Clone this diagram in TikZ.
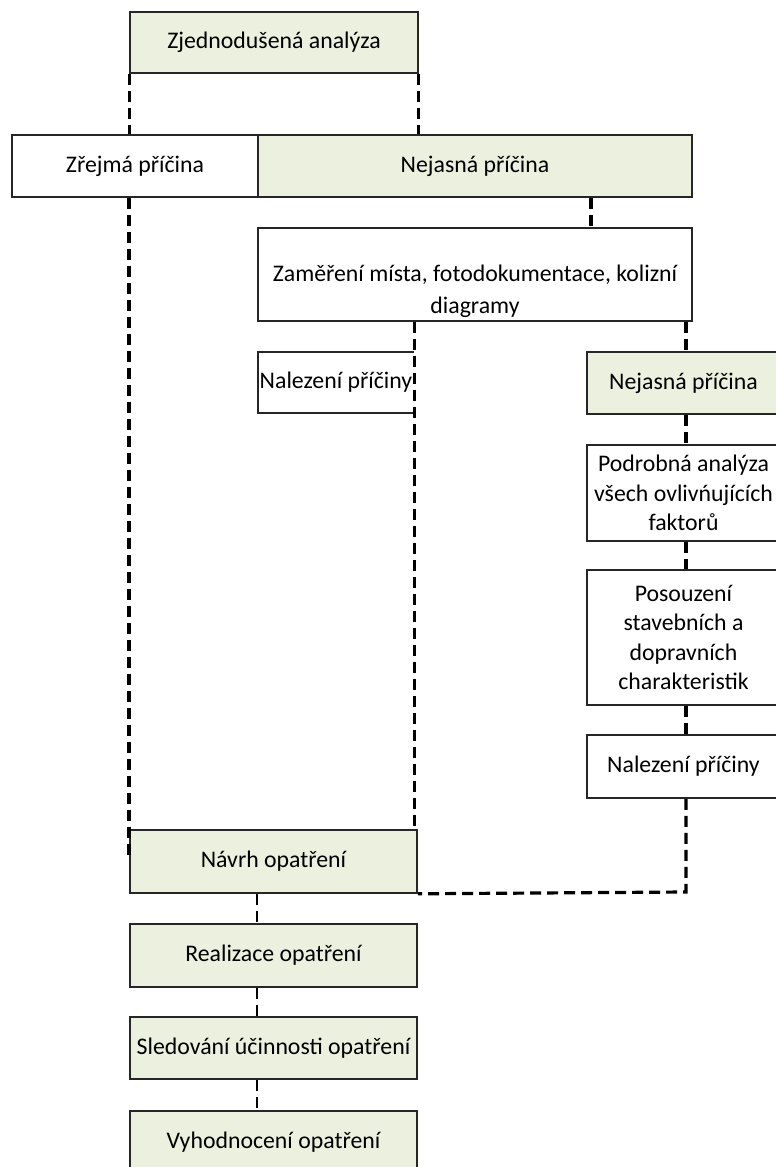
\documentclass[tikz,border=0pt]{standalone}
\usepackage{fontspec}
\setmainfont{Carlito}
\definecolor{boxgreen}{HTML}{EBF1DE}
\definecolor{edge}{HTML}{262626}
\begin{document}
\begin{tikzpicture}[x=1pt,y=-1pt,
  box/.style={draw=edge, line width=1.6pt, rectangle, inner sep=0pt, align=center,
    font=\fontsize{23.8}{29.5}\selectfont},
  gbox/.style={box, fill=boxgreen},
  dl/.style={draw=black, line width=3.2pt, dash pattern=on 11pt off 6pt},
  txt/.style={inner sep=0pt, align=center, font=\fontsize{23.8}{29.5}\selectfont}]
\useasboundingbox (0,0) rectangle (776,1167);
\clip (0,0) rectangle (776,1167);
% top
\node[gbox, minimum width=288, minimum height=61] (zj) at (274,42.5) {Zjednodušená analýza};
\node[box, minimum width=246, minimum height=62] (zr) at (135,166) {Zřejmá příčina};
\node[gbox, minimum width=434, minimum height=62] (nj) at (475,166) {Nejasná příčina};
% Zamereni
\node[box, minimum width=434, minimum height=93] (zam) at (475,274.5) {};
\node[txt, font=\fontsize{23.8}{32}\selectfont] (zamt) at (475,291) {Zaměření místa, fotodokumentace, kolizní\\diagramy};
% Nalezeni 1 (three sides)
\node[txt, minimum width=156, minimum height=61] (nal1) at (336,382.5) {Nalezení příčiny};
\draw[edge, line width=1.6pt] (nal1.north east) -- (nal1.north west) -- (nal1.south west) -- (nal1.south east);
% right column
\node[gbox, minimum width=193, minimum height=62] (nj2) at (683.5,383) {Nejasná příčina};
\node[box, minimum width=193, minimum height=96] (pod) at (683.5,493) {Podrobná analýza\\všech ovlivńujících\\faktorů};
\node[box, minimum width=193, minimum height=135] (pos) at (683.5,637.5) {Posouzení\\stavebních a\\dopravních\\charakteristik};
\node[box, minimum width=193, minimum height=63] (nal2) at (683.5,766.5) {Nalezení příčiny};
% bottom column
\node[gbox, minimum width=287, minimum height=63] (nav) at (273.5,861.5) {Návrh opatření};
\node[gbox, minimum width=287, minimum height=63] (rea) at (273.5,955.5) {Realizace opatření};
\node[gbox, minimum width=287, minimum height=62] (sle) at (273.5,1048) {Sledování účinnosti opatření};
\node[gbox, minimum width=287, minimum height=62, anchor=north] (vyh) at (273.5,1110) {Vyhodnocení opatření};
% connectors
\coordinate (zrend) at (129,860);
\coordinate (corner) at (686,892);
\draw[dl] (zj.south west) -- (zj.south west |- zr.north);
\draw[dl] (zj.south east) -- (zj.south east |- nj.north);
\draw[dl] (zr.south -| zrend) -- (zrend);
\draw[dl] (nj.south -| 591,0) -- (zam.north -| 591,0);
\draw[dl, line width=2.6pt] (zam.south -| nal1.east) -- (nav.north -| nal1.east);
\draw[dl] (zam.south -| corner) -- (nj2.north -| corner);
\draw[dl] (nj2.south -| corner) -- (pod.north -| corner);
\draw[dl] (pod.south -| corner) -- (pos.north -| corner);
\draw[dl] (pos.south -| corner) -- (nal2.north -| corner);
\draw[dl] (nal2.south -| corner) -- (corner) -- (nav.south east);
\draw[dl, line width=2.6pt] (nav.south -| 257,0) -- (rea.north -| 257,0);
\draw[dl, line width=2.6pt] (rea.south -| 257,0) -- (sle.north -| 257,0);
\draw[dl, line width=2.6pt] (sle.south -| 257,0) -- (vyh.north -| 257,0);
\end{tikzpicture}
\end{document}
